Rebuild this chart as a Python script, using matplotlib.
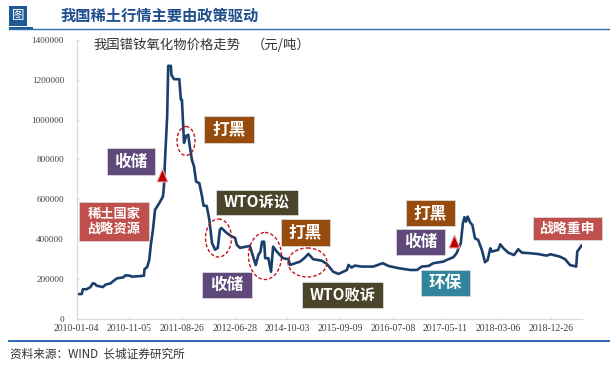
import matplotlib
matplotlib.use("Agg")
import matplotlib.pyplot as plt
from matplotlib.patches import Rectangle, Ellipse, Polygon

CJK = ['Noto Sans CJK SC', 'DejaVu Sans']
plt.rcParams['font.family'] = CJK

tick_dates = ["2010-01-04", "2010-11-05", "2011-08-26", "2012-06-28", "2014-10-03",
              "2015-09-09", "2016-07-08", "2017-05-11", "2018-03-06", "2018-12-26"]
y_ticks = [0, 200000, 400000, 600000, 800000, 1000000, 1200000, 1400000]

# position along the category axis (100 units = one labelled tick)
position = [0, 2, 10, 12, 19, 26, 31, 35, 38, 50, 55, 65, 70, 77, 89, 93, 102, 105, 124, 128,
            129, 134, 138, 141, 145, 149, 157, 164, 166, 168, 170, 172, 174, 179, 180, 185, 195,
            198, 200, 203, 204, 208, 212, 215, 219, 223, 227, 233, 238, 241, 247, 252, 257, 263,
            268, 272, 275, 285, 294, 301, 304, 310, 329, 331, 335, 340, 345, 349, 352, 356, 358,
            364, 369, 373, 380, 386, 392, 402, 405, 418, 424, 432, 440, 449, 465, 475, 487, 497,
            506, 513, 516, 522, 528, 541, 563, 581, 592, 611, 633, 646, 655, 668, 677, 696, 702,
            715, 721, 729, 733, 736, 739, 742, 747, 751, 756, 762, 769, 775, 780, 785, 788, 800,
            804, 810, 819, 830, 838, 845, 861, 876, 892, 899, 917, 927, 936, 948, 950, 958]
# price, yuan per tonne
price = [113000, 123000, 123000, 147000, 147000, 157000, 177000, 174000, 165000, 158000, 170000,
         177000, 189000, 202000, 207000, 217000, 215000, 210000, 214000, 215000,
         248000, 258000, 294000, 370000, 445000, 546000, 580000, 613000, 667000, 802000, 912000,
         1015000, 1270000, 1270000, 1225000, 1203000, 1203000,
         1100000, 1100000, 932000, 883000, 918000, 923000, 864000, 797000, 764000, 688000, 680000,
         616000, 567000, 566000, 497000, 380000, 346000,
         355000, 447000, 455000, 430000, 413000, 405000, 371000, 355000, 365000, 346000, 311000,
         269000, 319000, 336000, 386000, 386000, 303000,
         303000, 235000, 361000, 336000, 319000, 303000, 298000, 269000, 281000, 286000, 303000,
         325000, 298000, 291000, 274000, 235000, 224000,
         235000, 244000, 269000, 256000, 266000, 261000, 261000, 278000, 264000, 253000, 244000,
         244000, 261000, 264000, 278000, 286000, 294000,
         308000, 328000, 378000, 479000, 509000, 487000, 512000, 482000, 470000, 403000, 395000,
         345000, 283000, 294000, 353000, 336000, 345000,
         373000, 353000, 331000, 319000, 348000, 331000, 328000, 324000, 316000, 323000, 311000,
         298000, 269000, 261000, 336000, 366000]

W, H = 610, 366
fig = plt.figure(figsize=(W / 100, H / 100), dpi=100, facecolor="white")

left, right, top, bottom = 76.5, 582, 40, 318.5
ax = fig.add_axes([left / W, 1 - bottom / H, (right - left) / W, (bottom - top) / H])
ax.plot(position, price, color="#1B3F6B", lw=1.9, solid_joinstyle="round")
ax.set_xlim(0, 959)
ax.set_ylim(0, 1400000)
ax.set_xticks([i * 100 for i in range(len(tick_dates))])
ax.set_xticklabels(tick_dates, family="Liberation Serif", fontsize=7, color="#404040")
ax.set_yticks(y_ticks)
ax.set_yticklabels([str(v) for v in y_ticks], family="Liberation Serif", fontsize=6.6, color="#404040")
ax.tick_params(axis="x", direction="in", length=1.5, color="#D9D9D9", pad=4)
ax.tick_params(axis="y", direction="in", length=1.5, color="#D9D9D9", pad=9)
for s in ("top", "right"):
    ax.spines[s].set_visible(False)
for s in ("left", "bottom"):
    ax.spines[s].set_color("#D9D9D9")
    ax.spines[s].set_linewidth(0.9)

# page-level overlay in pixel coordinates
ov = fig.add_axes([0, 0, 1, 1], facecolor="none")
ov.set_xlim(0, W)
ov.set_ylim(H, 0)
ov.axis("off")

# header and footer
ov.add_patch(Rectangle((9, 6), 18, 20, fc="#1F5A96", ec="none"))
ov.text(18, 16, "图", color="white", fontsize=9, ha="center", va="center")
ov.add_patch(Rectangle((9, 27), 24, 2.2, fc="#1F5A96", ec="none"))
ov.plot([9, 610], [29, 29], color="#2E6DA8", lw=1.0)
ov.text(61, 16, "我国稀土行情主要由政策驱动", color="#1F4E8C", fontsize=11, weight="bold",
        ha="left", va="center")
ov.text(93, 45, "我国镨钕氧化物价格走势", color="#333333", fontsize=9.6, ha="left", va="center")
ov.text(252, 45, "（元/吨）", color="#333333", fontsize=9.6, ha="left", va="center")
ov.plot([9, 610], [341, 341], color="#1F5FA8", lw=1.3)
ov.text(10, 354, "资料来源：WIND  长城证券研究所", color="#333333", fontsize=8.4,
        style="italic", ha="left", va="center")

# callout boxes
def box(x0, y0, x1, y1, color, label, size=11.5):
    ov.add_patch(Rectangle((x0, y0), x1 - x0, y1 - y0, fc=color, ec="#D8D8D8", lw=0.6, zorder=3))
    ov.text((x0 + x1) / 2, (y0 + y1) / 2, label, color="white", fontsize=size, weight="bold",
            ha="center", va="center", linespacing=1.15, zorder=4)

BROWN, PURPLE, RED, OLIVE, TEAL = "#974B0C", "#5F497A", "#C0504D", "#4A452A", "#31859C"
box(204, 116, 254, 143, BROWN, "打黑", 12)
box(107, 148, 155, 175, PURPLE, "收储", 12)
box(79, 202, 149, 241, RED, "稀土国家\n战略资源", 9.5)
box(216, 190, 298, 215, OLIVE, "WTO诉讼", 11)
box(281, 219, 330, 246, BROWN, "打黑", 12)
box(202, 272, 252, 298, PURPLE, "收储", 12)
box(302, 282, 383, 308, OLIVE, "WTO败诉", 11)
box(406, 200, 455, 226, BROWN, "打黑", 12)
box(396, 229, 445, 255, PURPLE, "收储", 12)
box(421, 270, 470, 296, TEAL, "环保", 12)
box(533, 217, 602, 240, RED, "战略重申", 10)

# dashed ellipses
for cx, cy, w, h in [(186, 141, 18, 29), (218.5, 238, 26, 38), (265, 256, 33, 47), (307.5, 262.5, 39, 29)]:
    ov.add_patch(Ellipse((cx, cy), w, h, fc="none", ec="#C8141E", lw=1.0, ls=(0, (2.5, 1.5)), zorder=2))

# triangles
for pts in ([(157, 182), (168, 182), (162.5, 169)], [(449, 248), (460, 248), (454.5, 235)]):
    ov.add_patch(Polygon(pts, closed=True, fc="#C00000", ec="#E8B0B0", lw=0.8, zorder=3))

fig.savefig("out.png", dpi=100)
